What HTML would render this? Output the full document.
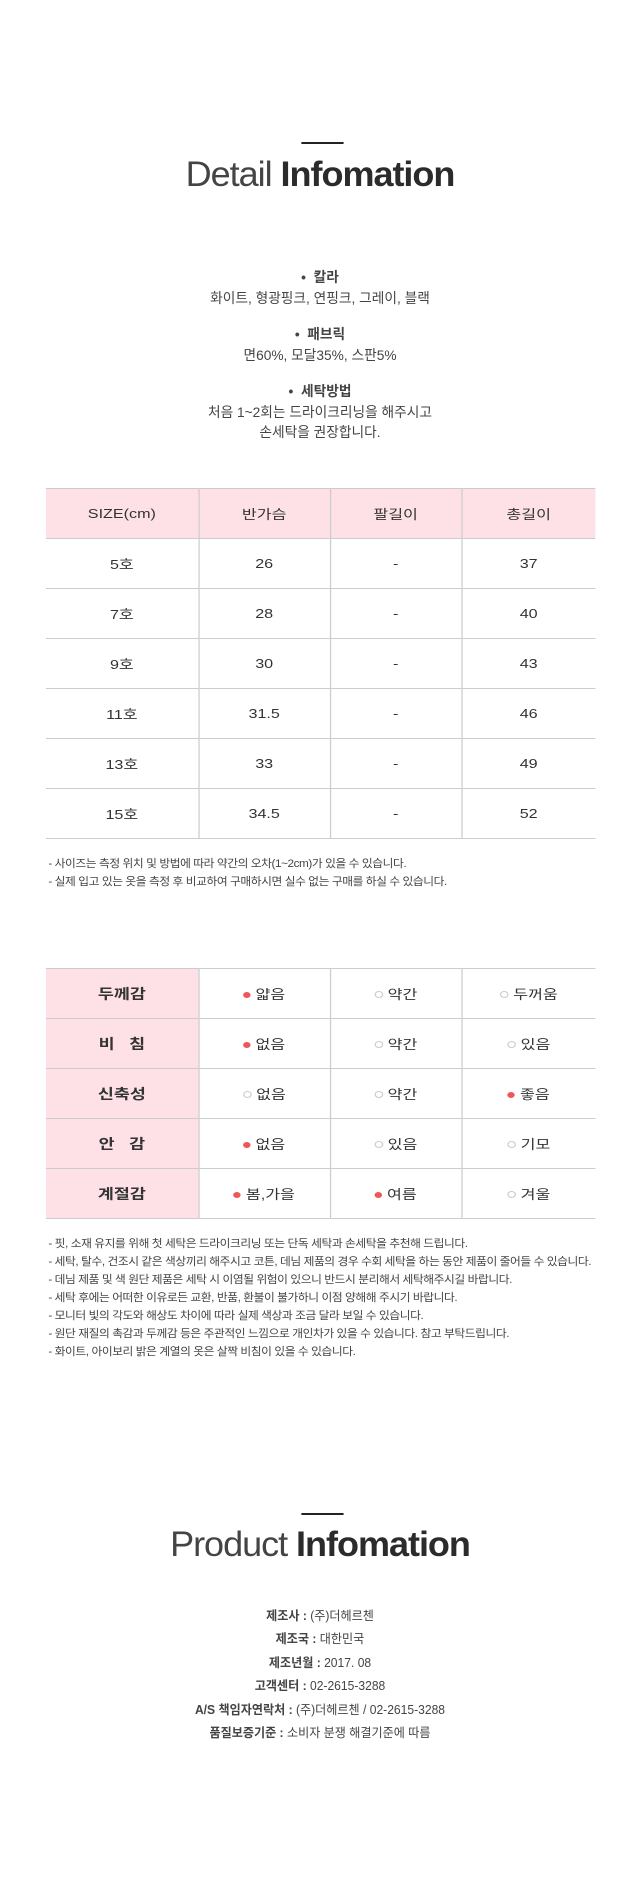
<!DOCTYPE html>
<html><head><meta charset="utf-8"><style>
html,body{margin:0;padding:0;background:#fff;width:640px;height:1900px;overflow:hidden}
#w{position:absolute;left:0;top:0;width:516px;height:1900px;transform:scale(1.2403,1);transform-origin:0 0;font-family:"Liberation Sans","Noto Sans CJK KR",sans-serif;color:#333}
.c{position:absolute;left:0;width:516px;text-align:center;transform-origin:258px 0}
.bar{position:absolute;left:243px;width:34px;height:2px;background:#222}
.ttl{font-size:35px;letter-spacing:-1px;color:#333;transform:scaleX(0.83)}
.ttl .l{font-weight:300;color:#444}
.ttl b{font-weight:bold;color:#2b2b2b}
.t14{font-size:14px;color:#444;transform:scaleX(0.79)}
table{position:absolute;left:37px;width:443px;border-collapse:collapse;table-layout:fixed}
td{height:49px;border-bottom:1px solid #ccc;border-left:1px solid #ccc;text-align:center;font-size:13px;color:#333;padding:0}
td:first-child{border-left:none}
tr:first-child td{border-top:1px solid #ccc}
.h td{background:#fde1e6}
.pk{background:#fde1e6;font-weight:bold;font-size:14px}
.n{position:absolute;left:39px;font-size:11px;color:#444;line-height:18px;white-space:nowrap;letter-spacing:-0.4px;transform:scaleX(0.86);transform-origin:0 0}
.d{display:inline-block;width:6px;height:6px;border-radius:50%;background:#f25555;margin-right:4px;vertical-align:1px}
.e{display:inline-block;width:5px;height:5px;border-radius:50%;border:1px solid #ccc;margin-right:4px;vertical-align:1px}
.p{font-size:12.5px;color:#444;line-height:23.4px;transform:scaleX(0.78)}
</style></head><body><div id="w">
<div class="bar" style="top:142px"></div>
<div class="c ttl" style="top:155px;line-height:40px"><span class="l">Detail</span> <b>Infomation</b></div>

<div class="c t14" style="top:267px;line-height:20.7px">
<b>•&nbsp; 칼라</b><br>화이트, 형광핑크, 연핑크, 그레이, 블랙<br><div style="height:16px"></div>
<b>•&nbsp; 패브릭</b><br>면60%, 모달35%, 스판5%<br><div style="height:15px"></div>
<b>•&nbsp; 세탁방법</b><br>처음 1~2회는 드라이크리닝을 해주시고<br>손세탁을 권장합니다.</div>

<table style="top:488px">
<colgroup><col style="width:123px"><col style="width:106px"><col style="width:106px"><col style="width:108px"></colgroup>
<tr class="h"><td>SIZE(cm)</td><td>반가슴</td><td>팔길이</td><td>총길이</td></tr>
<tr><td>5호</td><td>26</td><td>-</td><td>37</td></tr>
<tr><td>7호</td><td>28</td><td>-</td><td>40</td></tr>
<tr><td>9호</td><td>30</td><td>-</td><td>43</td></tr>
<tr><td>11호</td><td>31.5</td><td>-</td><td>46</td></tr>
<tr><td>13호</td><td>33</td><td>-</td><td>49</td></tr>
<tr><td>15호</td><td>34.5</td><td>-</td><td>52</td></tr>
</table>
<div class="n" style="top:855px">- 사이즈는 측정 위치 및 방법에 따라 약간의 오차(1~2cm)가 있을 수 있습니다.<br>- 실제 입고 있는 옷을 측정 후 비교하여 구매하시면 실수 없는 구매를 하실 수 있습니다.</div>

<table style="top:968px">
<colgroup><col style="width:123px"><col style="width:106px"><col style="width:106px"><col style="width:108px"></colgroup>
<tr><td class="pk">두께감</td><td><i class="d"></i>얇음</td><td><i class="e"></i>약간</td><td><i class="e"></i>두꺼움</td></tr>
<tr><td class="pk">비 &nbsp; 침</td><td><i class="d"></i>없음</td><td><i class="e"></i>약간</td><td><i class="e"></i>있음</td></tr>
<tr><td class="pk">신축성</td><td><i class="e"></i>없음</td><td><i class="e"></i>약간</td><td><i class="d"></i>좋음</td></tr>
<tr><td class="pk">안 &nbsp; 감</td><td><i class="d"></i>없음</td><td><i class="e"></i>있음</td><td><i class="e"></i>기모</td></tr>
<tr><td class="pk">계절감</td><td><i class="d"></i>봄,가을</td><td><i class="d"></i>여름</td><td><i class="e"></i>겨울</td></tr>
</table>
<div class="n" style="top:1235px">- 핏, 소재 유지를 위해 첫 세탁은 드라이크리닝 또는 단독 세탁과 손세탁을 추천해 드립니다.<br>- 세탁, 탈수, 건조시 같은 색상끼리 해주시고 코튼, 데님 제품의 경우 수회 세탁을 하는 동안 제품이 줄어들 수 있습니다.<br>- 데님 제품 및 색 원단 제품은 세탁 시 이염될 위험이 있으니 반드시 분리해서 세탁해주시길 바랍니다.<br>- 세탁 후에는 어떠한 이유로든 교환, 반품, 환불이 불가하니 이점 양해해 주시기 바랍니다.<br>- 모니터 빛의 각도와 해상도 차이에 따라 실제 색상과 조금 달라 보일 수 있습니다.<br>- 원단 재질의 촉감과 두께감 등은 주관적인 느낌으로 개인차가 있을 수 있습니다. 참고 부탁드립니다.<br>- 화이트, 아이보리 밝은 계열의 옷은 살짝 비침이 있을 수 있습니다.</div>

<div class="bar" style="top:1513px"></div>
<div class="c ttl" style="top:1525px;line-height:40px"><span class="l">Product</span> <b>Infomation</b></div>
<div class="c p" style="top:1605px">
<b>제조사 :</b> (주)더헤르첸<br><b>제조국 :</b> 대한민국<br><b>제조년월 :</b> 2017. 08<br><b>고객센터 :</b> 02-2615-3288<br><b>A/S 책임자연락처 :</b> (주)더헤르첸 / 02-2615-3288<br><b>품질보증기준 :</b> 소비자 분쟁 해결기준에 따름</div>
</div></body></html>
